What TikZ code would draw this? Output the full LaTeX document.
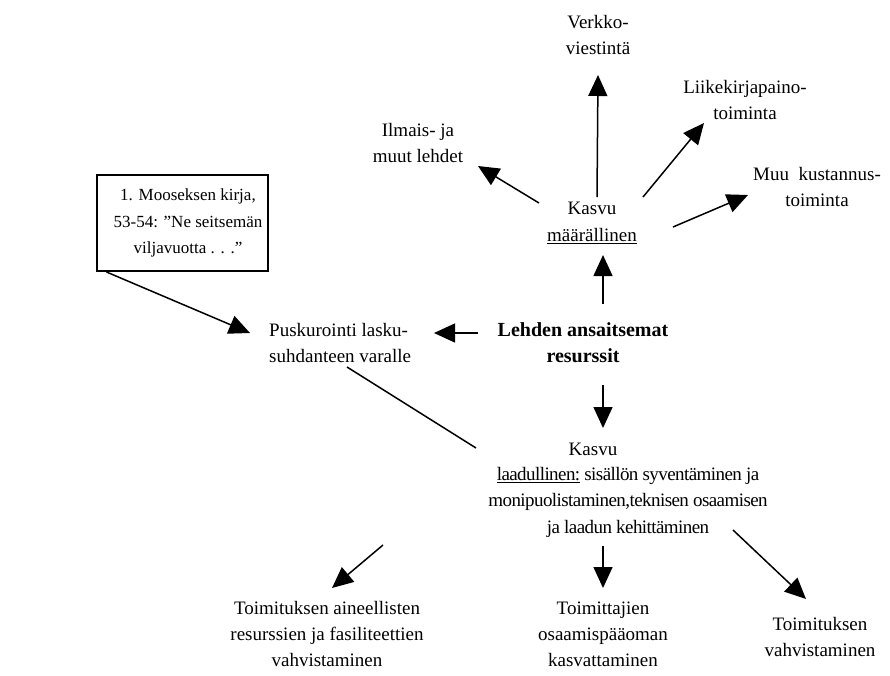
\documentclass[tikz,border=0pt]{standalone}
\usepackage{fontspec}
\setmainfont{Liberation Serif}
\usetikzlibrary{arrows.meta}
\tikzset{
  txt/.style={align=center, inner sep=0pt, font=\fontsize{19}{26.5}\selectfont},
  arr/.style={line width=1.5pt, -{Triangle[length=21pt,width=19pt]}},
  plain/.style={line width=1.5pt},
  boxed/.style={draw, line width=1.5pt, minimum width=171pt, minimum height=96pt, inner sep=0pt}
}
\begin{document}
\begin{tikzpicture}[x=1pt,y=-1pt]
\useasboundingbox (0,0) rectangle (890,675);
\node[txt] (verk) at (598,35) {Verkko-\\viestintä};
\node[txt] (liike) at (745,100) {Liikekirjapaino-\\toiminta};
\node[txt] (ilmais) at (418,143) {Ilmais- ja\\muut lehdet};
\node[txt] (muu) at (817,187) {Muu\ \ kustannus-\\toiminta};
\node[txt] (kasvum) at (592,223) {Kasvu\\\underline{määrällinen}};
\node[boxed] (box) at (182.5,223) {};
\node[txt, font=\fontsize{17}{26.5}\selectfont] (boxtxt) at (188,223) {1. Mooseksen kirja,\\53-54: ”Ne seitsemän\\viljavuotta . . .”};
\node[txt, align=left, anchor=west] (pusk) at (269,343) {Puskurointi lasku-\\suhdanteen varalle};
\node[txt, font=\fontsize{20}{26}\selectfont\bfseries] (lehden) at (583,343) {Lehden ansaitsemat\\resurssit};
\node[txt] (kasvul) at (593,449) {Kasvu};
\node[txt, font=\fontsize{19}{26.5}\selectfont\addfontfeatures{LetterSpace=-3}] (laad) at (628,502) {\underline{laadullinen:} sisällön syventäminen ja\\monipuolistaminen,teknisen osaamisen\\ja laadun kehittäminen};
\node[txt, font=\fontsize{19}{26}\selectfont] (b1) at (327,634) {Toimituksen aineellisten\\resurssien ja fasiliteettien\\vahvistaminen};
\node[txt, font=\fontsize{19}{26}\selectfont] (b2) at (603,634) {Toimittajien\\osaamispääoman\\kasvattaminen};
\node[txt, font=\fontsize{19}{26}\selectfont] (b3) at (820,637) {Toimituksen\\vahvistaminen};

\draw[arr] ([shift={(5,-26)}]kasvum.center) -- ([shift={(0,40)}]verk.center);
\draw[arr] ([shift={(51,-26)}]kasvum.center) -- ([shift={(-41,23)}]liike.center);
\draw[arr] ([shift={(-53,-20)}]kasvum.center) -- ([shift={(60,23)}]ilmais.center);
\draw[arr] ([shift={(81,4)}]kasvum.center) -- ([shift={(-69,8)}]muu.center);
\draw[arr] ([shift={(20,-39)}]lehden.center) -- ([shift={(11,32)}]kasvum.center);
\draw[arr] ([shift={(-105,-10)}]lehden.center) -- ([shift={(165,-10)}]pusk.west);
\draw[arr] ([shift={(-76,49)}]box.center) -- ([shift={(-19,-10)}]pusk.west);
\draw[plain] ([shift={(78,24)}]pusk.west) -- ([shift={(-117,-1)}]kasvul.center);
\draw[arr] ([shift={(20,42)}]lehden.center) -- ([shift={(10,-21)}]kasvul.center);
\draw[arr] ([shift={(-245,43)}]laad.center) -- ([shift={(5,-46)}]b1.center);
\draw[arr] ([shift={(-25,44)}]laad.center) -- ([shift={(0,-46)}]b2.center);
\draw[arr] ([shift={(105,28)}]laad.center) -- ([shift={(-14,-38)}]b3.center);
\end{tikzpicture}
\end{document}
